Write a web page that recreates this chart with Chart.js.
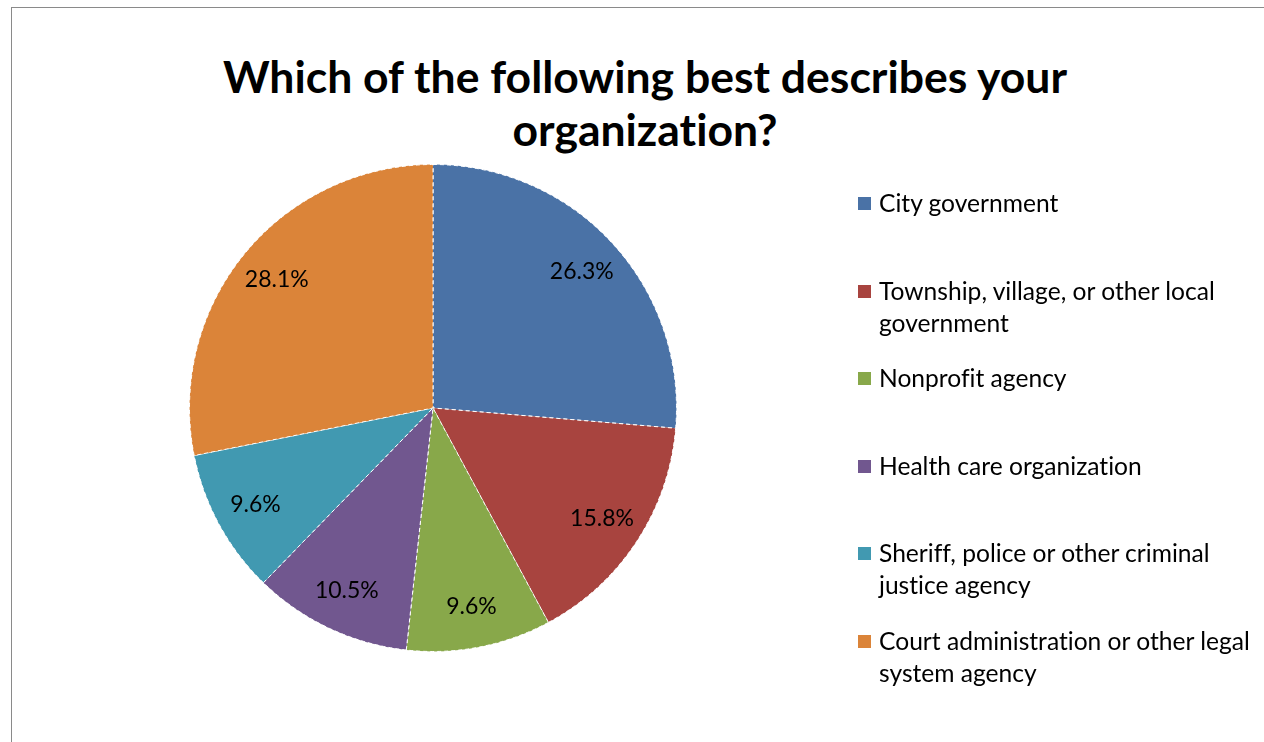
<!DOCTYPE html>
<html>
<head>
<meta charset="utf-8">
<script src="https://cdn.jsdelivr.net/npm/chart.js@4"></script>
<style>
  html, body { margin: 0; padding: 0; background: #fff; }
  #wrap { position: relative; width: 1264px; height: 742px; overflow: hidden; font-family: Lato, "Open Sans", sans-serif; font-variant-ligatures: none; }
  #frame { position: absolute; left: 11px; top: 7px; width: 1400px; height: 900px; border: 1px solid #8a8a8a; }
  #title { position: absolute; left: 195px; width: 900px; top: 49px; text-align: center; font-weight: bold; font-size: 44.5px; line-height: 53px; color: #000; }
  #pie { position: absolute; left: 0; top: 0; }
  #legend { position: absolute; left: 858px; top: 187px; width: 406px; }
  .item { height: 87.6px; position: relative; }
  .box { position: absolute; left: 0; top: 10px; width: 13px; height: 13px; }
  .txt { margin-left: 21px; width: 385px; font-size: 24.6px; line-height: 32px; color: #000; }
</style>
</head>
<body>
<div id="wrap">
  <div id="frame"></div>
  <div id="title">Which of the following best describes your<br>organization?</div>
  <canvas id="pie" width="1264" height="742"></canvas>
  <div id="legend"></div>
</div>
<script>
// chart data
const categories = [
  'City government',
  'Township, village, or other local government',
  'Nonprofit agency',
  'Health care organization',
  'Sheriff, police or other criminal justice agency',
  'Court administration or other legal system agency'
];
const percentages = [26.3, 15.8, 9.6, 10.5, 9.6, 28.1];
const sliceColors = ['#4A72A6', '#A8443F', '#88A84A', '#71578F', '#4199B1', '#DB8439'];

// legend built from the same arrays
const legend = document.getElementById('legend');
categories.forEach((name, i) => {
  const item = document.createElement('div');
  item.className = 'item';
  item.innerHTML = '<div class="box" style="background:' + sliceColors[i] + '"></div><div class="txt">' + name + '</div>';
  legend.appendChild(item);
});

// draws the percent labels inside each slice
const sliceLabels = {
  id: 'sliceLabels',
  afterDatasetsDraw(chart) {
    const ctx = chart.ctx;
    const meta = chart.getDatasetMeta(0);
    ctx.save();
    ctx.font = '23px Lato, "Open Sans", sans-serif';
    ctx.fillStyle = '#000';
    ctx.textAlign = 'center';
    ctx.textBaseline = 'middle';
    meta.data.forEach((arc, i) => {
      const p = arc.getProps(['x', 'y', 'startAngle', 'endAngle', 'outerRadius']);
      const mid = (p.startAngle + p.endAngle) / 2;
      const r = p.outerRadius * 0.83;
      ctx.fillText(percentages[i].toFixed(1) + '%', p.x + Math.cos(mid) * r, p.y + Math.sin(mid) * r);
    });
    ctx.restore();
  }
};

new Chart(document.getElementById('pie'), {
  type: 'pie',
  data: {
    labels: categories,
    datasets: [{
      data: percentages,
      backgroundColor: sliceColors,
      borderColor: '#ffffff',
      borderWidth: 1,
      borderDash: [4, 3]
    }]
  },
  options: {
    responsive: false,
    animation: false,
    layout: { padding: { left: 189, right: 587, top: 164, bottom: 90 } },
    plugins: {
      legend: { display: false },
      title: { display: false },
      tooltip: { enabled: false }
    }
  },
  plugins: [sliceLabels]
});
</script>
</body>
</html>
